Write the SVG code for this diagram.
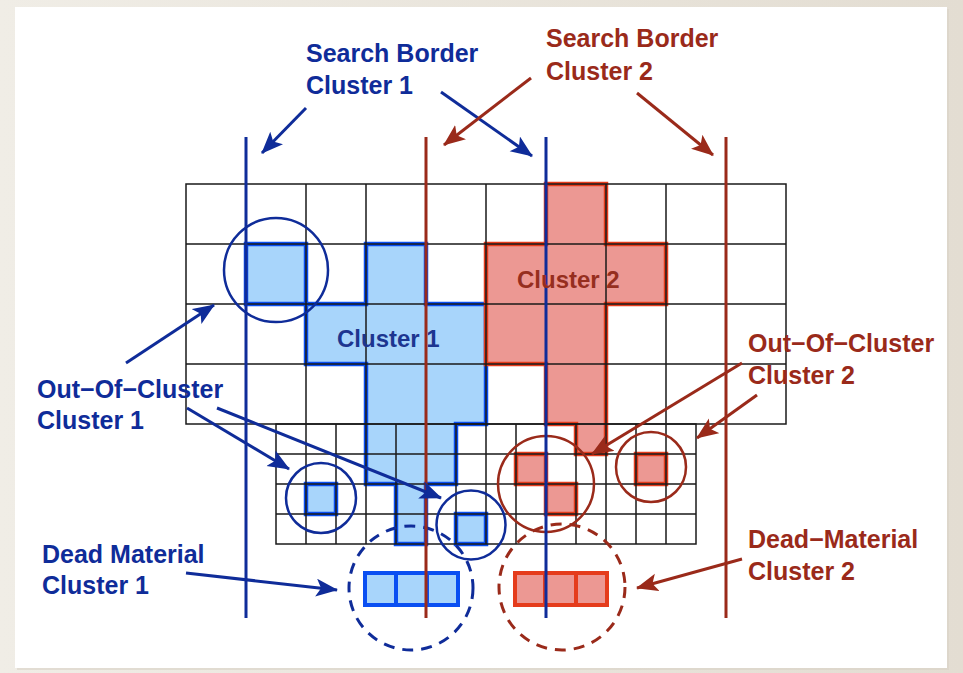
<svg xmlns="http://www.w3.org/2000/svg" width="963" height="673" viewBox="0 0 963 673">
<defs>
<linearGradient id="bg" x1="0" y1="0" x2="1" y2="0">
<stop offset="0" stop-color="#f0ede6"/>
<stop offset="1" stop-color="#e3ddd2"/>
</linearGradient>
<marker id="ab" markerUnits="userSpaceOnUse" markerWidth="24" markerHeight="20" refX="21" refY="9" orient="auto">
<path d="M0,0 L22,9 L0,18 L5,9 z" fill="#0f2c99"/>
</marker>
<marker id="ar" markerUnits="userSpaceOnUse" markerWidth="24" markerHeight="20" refX="21" refY="9" orient="auto">
<path d="M0,0 L22,9 L0,18 L5,9 z" fill="#9a2a1a"/>
</marker>
<style>
.lbl{font-family:"Liberation Sans",Arial,sans-serif;font-weight:bold;font-size:25px}
.b{fill:#0f2c99}
.r{fill:#9a2a1a}
.inner{font-family:"Liberation Sans",Arial,sans-serif;font-weight:bold;font-size:24px}
.fb{fill:#a8d5fb;stroke:#0a4ff2;stroke-width:4.5;stroke-linejoin:miter}
.fr{fill:#ec9893;stroke:#e53c1c;stroke-width:4.5;stroke-linejoin:miter}
.grid{stroke:#1a1a1a;stroke-width:1.5;fill:none}
.vb{stroke:#0f2c99;stroke-width:3}
.vr{stroke:#9a2a1a;stroke-width:3}
.cb{fill:none;stroke:#0f2c99;stroke-width:2.5}
.cr{fill:none;stroke:#9a2a1a;stroke-width:2.5}
.db{fill:none;stroke:#0f2c99;stroke-width:3;stroke-dasharray:11 8}
.dr{fill:none;stroke:#9a2a1a;stroke-width:3;stroke-dasharray:11 8}
.arb{stroke:#0f2c99;stroke-width:3;fill:none;marker-end:url(#ab)}
.arr{stroke:#9a2a1a;stroke-width:3;fill:none;marker-end:url(#ar)}
.dmb{fill:#a8d5fb;stroke:#0a4ff2;stroke-width:4}
.dmr{fill:#ec9893;stroke:#e53c1c;stroke-width:4}
</style>
</defs>
<rect x="0" y="0" width="963" height="673" fill="url(#bg)"/>
<rect x="17" y="9" width="932" height="661" fill="#d8d2c6" opacity="0.6"/>
<rect x="15" y="7" width="932" height="661" fill="#ffffff"/>

<g id="cluster1">
<rect class="fb" x="246" y="244" width="60" height="60"/>
<polygon class="fb" points="366,244 426,244 426,304 486,304 486,424 456,424 456,484 426,484 426,544 396,544 396,484 366,484 366,364 306,364 306,304 366,304"/>
<rect class="fb" x="306" y="484" width="30" height="30"/>
<rect class="fb" x="456" y="514" width="30" height="30"/>
</g>
<g id="cluster2">
<polygon class="fr" points="546,184 606,184 606,244 666,244 666,304 606,304 606,454 576,454 576,424 546,424 546,364 486,364 486,244 546,244"/>
<rect class="fr" x="516" y="454" width="30" height="30"/>
<rect class="fr" x="546" y="484" width="30" height="30"/>
<rect class="fr" x="636" y="454" width="30" height="30"/>
</g>

<g id="grid" class="grid">
<rect x="186" y="184" width="600" height="240"/>
<path d="M246,184V424M306,184V424M366,184V424M426,184V424M486,184V424M546,184V424M606,184V424M666,184V424M726,184V424M186,244H786M186,304H786M186,364H786"/>
<rect x="276" y="424" width="420" height="120"/>
<path d="M306,424V544M336,424V544M366,424V544M396,424V544M426,424V544M456,424V544M486,424V544M516,424V544M546,424V544M576,424V544M606,424V544M636,424V544M666,424V544M276,454H696M276,484H696M276,514H696"/>
</g>

<g id="dead1">
<rect class="dmb" x="365" y="573" width="93" height="32"/>
<path d="M396,573V605M427,573V605" stroke="#0a4ff2" stroke-width="4"/>
</g>
<g id="dead2">
<rect class="dmr" x="515" y="573" width="92" height="32"/>
<path d="M545,573V605M576,573V605" stroke="#e53c1c" stroke-width="4"/>
</g>

<g id="circles">
<circle class="cb" cx="276" cy="270" r="52"/>
<circle class="cb" cx="321" cy="498" r="35"/>
<circle class="cb" cx="471" cy="525" r="34.5"/>
<circle class="cr" cx="546" cy="484" r="48"/>
<circle class="cr" cx="651" cy="467" r="35"/>
<circle class="db" cx="411" cy="588" r="62"/>
<circle class="dr" cx="562" cy="587" r="63"/>
</g>

<g id="borders">
<line class="vb" x1="246" y1="137" x2="246" y2="618"/>
<line class="vr" x1="426" y1="137" x2="426" y2="618"/>
<line class="vb" x1="546" y1="137" x2="546" y2="618"/>
<line class="vr" x1="726" y1="137" x2="726" y2="618"/>
</g>

<g id="connectors">
<line class="arb" x1="306" y1="108" x2="262" y2="153"/>
<line class="arb" x1="441" y1="92" x2="532" y2="156"/>
<line class="arr" x1="531" y1="78" x2="444" y2="145"/>
<line class="arr" x1="637" y1="93" x2="713" y2="155"/>
<line class="arb" x1="126" y1="363" x2="214" y2="305"/>
<line class="arb" x1="187" y1="408" x2="289" y2="469"/>
<line class="arb" x1="217" y1="408" x2="441" y2="498"/>
<line class="arr" x1="742" y1="363" x2="592" y2="454"/>
<line class="arr" x1="757" y1="395" x2="697" y2="438"/>
<line class="arb" x1="186" y1="573" x2="337" y2="590"/>
<line class="arr" x1="742" y1="559" x2="637" y2="588"/>
</g>

<g id="labels">
<text class="inner" x="337" y="347" fill="#1d3590">Cluster 1</text>
<text class="inner" x="517" y="288" fill="#962e1e">Cluster 2</text>
<text class="lbl b" x="306" y="62">Search Border<tspan x="306" y="94">Cluster 1</tspan></text>
<text class="lbl r" x="546" y="47">Search Border<tspan x="546" y="80">Cluster 2</tspan></text>
<text class="lbl b" x="37" y="398">Out−Of−Cluster<tspan x="37" y="429">Cluster 1</tspan></text>
<text class="lbl r" x="748" y="352">Out−Of−Cluster<tspan x="748" y="384">Cluster 2</tspan></text>
<text class="lbl b" x="42" y="563">Dead Material<tspan x="42" y="594">Cluster 1</tspan></text>
<text class="lbl r" x="748" y="548">Dead−Material<tspan x="748" y="580">Cluster 2</tspan></text>
</g>
</svg>
